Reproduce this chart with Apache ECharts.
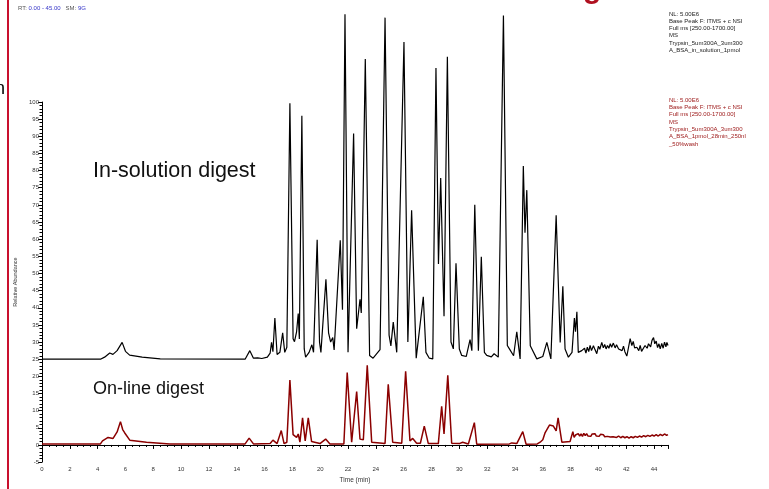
<!DOCTYPE html>
<html>
<head>
<meta charset="utf-8">
<script src="https://cdn.jsdelivr.net/npm/echarts@6/dist/echarts.min.js"></script>
<style>
html,body{margin:0;padding:0;background:#fff;}
#chart{width:769px;height:489px;}
</style>
</head>
<body>
<div id="chart"></div>
<script>
// ---- Data (time in min, relative abundance; in-solution trace drawn with +25 offset as in the reference) ----
const xTicks = [0,2,4,6,8,10,12,14,16,18,20,22,24,26,28,30,32,34,36,38,40,42,44];
const yTicks = [-5,0,5,10,15,20,25,30,35,40,45,50,55,60,65,70,75,80,85,90,95,100];

const inSolutionTrace = [
 [0,25.0],[4.2,25.0],[4.5,25.6],[4.87,26.8],[5.1,26.4],[5.4,27.5],[5.76,29.9],[6.0,27.3],[6.3,26.2],[7.2,25.6],[8.5,25.1],
 [14.6,25.0],[14.94,27.5],[15.2,25.3],[15.5,25.4],[15.8,25.2],[16.2,25.6],[16.4,26.8],[16.5,29.9],[16.6,27.2],[16.74,37.0],
 [16.9,26.4],[17.1,27.0],[17.3,32.7],[17.45,27.0],[17.6,28.5],[17.82,99.6],[18.05,31.0],[18.15,30.1],[18.3,33.0],[18.42,38.3],
 [18.5,30.9],[18.68,96.0],[18.85,28.0],[18.95,25.6],[19.2,27.0],[19.4,29.2],[19.52,27.0],[19.78,59.8],[19.95,30.0],[20.05,27.0],
 [20.41,48.3],[20.6,32.7],[20.75,30.0],[20.9,31.3],[21.0,27.7],[21.44,59.7],[21.6,39.4],[21.78,125.6],[22.0,27.0],[22.4,90.8],
 [22.62,33.9],[22.86,42.5],[22.95,38.5],[23.24,112.5],[23.55,26.1],[23.8,25.3],[24.3,27.8],[24.66,124.6],[24.95,32.0],[25.08,28.9],
 [25.25,35.8],[25.5,27.0],[26.02,117.5],[26.3,30.0],[26.57,68.4],[26.9,25.3],[27.41,43.2],[27.6,27.0],[27.84,25.3],[28.09,25.1],
 [28.32,109.9],[28.5,52.8],[28.66,77.8],[28.9,37.5],[29.14,113.2],[29.4,30.0],[29.57,28.0],[29.76,53.0],[30.0,28.0],[30.17,26.1],
 [30.5,25.8],[30.77,30.7],[30.9,27.5],[31.11,70.0],[31.37,27.5],[31.58,54.9],[31.8,27.0],[31.97,26.1],[32.3,25.7],[32.5,26.6],
 [32.8,25.6],[33.17,125.2],[33.45,29.0],[33.6,28.0],[33.9,26.0],[34.13,33.0],[34.37,25.1],[34.6,81.3],[34.72,61.9],[34.85,74.3],
 [35.1,28.9],[35.57,25.1],[36.0,25.8],[36.29,29.9],[36.58,25.1],[36.96,67.0],[37.25,29.9],[37.44,46.3],[37.6,28.0],[37.84,25.6],
 [38.1,27.0],[38.27,37.0],[38.35,33.0],[38.45,38.8],[38.55,27.0],[38.65,26.6],[38.8,27.5],[38.92,27.0],[39.0,28.2],[39.1,26.8],
 [39.2,28.5],[39.3,27.2],[39.4,29.0],[39.5,27.5],[39.64,28.9],[39.75,27.8],[39.88,26.6],[40.0,28.8],[40.1,27.9],[40.24,29.9],
 [40.35,28.3],[40.45,29.3],[40.55,28.0],[40.65,29.0],[40.75,28.2],[40.85,29.5],[40.95,28.5],[41.07,29.7],[41.2,28.3],[41.3,29.2],
 [41.45,28.0],[41.56,28.5],[41.7,27.5],[41.8,28.8],[41.9,27.2],[42.04,25.9],[42.15,28.2],[42.28,31.0],[42.4,29.0],[42.5,30.2],
 [42.6,28.3],[42.76,28.5],[42.9,27.5],[43.0,29.0],[43.1,27.3],[43.24,27.8],[43.35,29.0],[43.5,28.2],[43.6,29.5],[43.75,28.6],
 [43.85,30.5],[43.96,31.3],[44.05,29.5],[44.15,30.3],[44.25,28.4],[44.35,29.5],[44.44,28.0],[44.55,29.6],[44.65,28.2],[44.75,30.0],
 [44.85,28.6],[44.92,29.9],[45.0,29.0]
];

const onlineTrace = [
 [0,0.3],[4.2,0.3],[4.35,1.2],[4.75,2.2],[5.11,1.9],[5.4,3.8],[5.64,6.8],[5.8,4.5],[5.95,3.5],[6.31,1.4],[7.51,0.8],[9.19,0.3],
 [10.75,0.3],[10.8,0.6],[10.85,0.3],[14.6,0.3],[14.89,2.0],[15.2,0.3],[16.4,0.4],[16.6,1.4],[16.9,0.4],[17.2,4.2],[17.4,0.4],
 [17.6,0.8],[17.82,18.9],[18.05,3.0],[18.3,2.2],[18.42,3.2],[18.54,0.8],[18.73,7.9],[18.92,1.2],[19.14,7.9],[19.38,1.0],[19.98,0.4],
 [20.39,1.7],[20.7,0.3],[21.7,0.3],[21.94,21.1],[22.26,0.8],[22.62,15.6],[22.86,1.7],[23.1,1.5],[23.38,23.2],[23.7,0.8],[24.66,0.4],
 [24.89,17.7],[25.21,0.8],[25.86,0.5],[26.14,21.5],[26.45,1.2],[26.65,1.9],[26.93,0.5],[27.2,0.5],[27.48,5.5],[27.77,0.4],[28.49,0.4],
 [28.73,11.3],[28.9,3.2],[29.17,20.3],[29.45,0.5],[30.0,0.4],[30.24,0.8],[30.65,0.3],[31.08,6.5],[31.25,0.2],[33.6,0.3],[33.77,0.6],
 [34.13,0.4],[34.56,3.9],[34.8,0.2],[35.6,0.3],[35.81,0.8],[36.0,1.5],[36.17,3.6],[36.48,5.8],[36.76,5.5],[36.96,4.1],[37.1,7.9],
 [37.37,0.8],[37.96,1.0],[38.1,1.5],[38.16,3.9],[38.25,2.2],[38.35,2.9],[38.45,2.4],[38.55,3.3],[38.65,2.6],[38.75,3.2],[38.85,2.5],
 [38.95,3.4],[39.05,2.7],[39.15,3.3],[39.25,2.6],[39.35,3.1],[39.45,2.5],[39.55,3.2],[39.65,2.7],[39.75,3.3],[39.85,2.6],[39.95,3.0],
 [40.05,2.5],[40.15,3.1],[40.25,2.6],[40.35,3.0],[40.45,2.4],[40.55,2.9],[40.65,2.5],[40.75,2.9],[40.85,2.3],[40.95,2.8],[41.05,2.4],
 [41.15,2.7],[41.3,2.2],[41.45,2.6],[41.6,2.1],[41.75,2.5],[41.9,2.1],[42.05,2.4],[42.2,2.0],[42.35,2.4],[42.5,2.1],[42.65,2.5],
 [42.8,2.2],[42.95,2.6],[43.1,2.3],[43.25,2.7],[43.4,2.4],[43.55,2.8],[43.7,2.5],[43.85,2.9],[44.0,2.6],[44.15,3.0],[44.3,2.6],
 [44.45,3.1],[44.6,2.7],[44.75,3.2],[44.9,2.8],[45.0,3.0]
];

const inSolutionInfo = ['NL: 5.00E6','Base Peak F: ITMS + c NSI','Full ms [250.00-1700.00]','MS','Trypsin_5um300A_3um300','A_BSA_in_solution_1pmol'];
const onlineInfo = ['NL: 5.00E6','Base Peak F: ITMS + c NSI','Full ms [250.00-1700.00]','MS','Trypsin_5um300A_3um300','A_BSA_1pmol_28min_250nl','_50%wash'];

const FONT = '"Liberation Sans", Arial, Helvetica, sans-serif';
const chart = echarts.init(document.getElementById('chart'), null, {renderer:'canvas'});

chart.setOption({
  animation:false,
  backgroundColor:'#fff',
  grid:{left:42, right:101, top:102, bottom:20, containLabel:false},
  xAxis:{
    type:'value', min:0, max:45, interval:2,
    name:'Time (min)', nameLocation:'middle', nameGap:13,
    nameTextStyle:{fontFamily:FONT, fontSize:6.5, color:'#333'},
    axisLine:{lineStyle:{color:'#000', width:1}},
    axisTick:{length:4, lineStyle:{color:'#000'}},
    minorTick:{show:true, splitNumber:4, length:2, lineStyle:{color:'#000'}},
    splitLine:{show:false},
    axisLabel:{fontFamily:FONT, fontSize:6, color:'#333', margin:4,
      formatter:v => xTicks.includes(v) ? String(v) : ''}
  },
  yAxis:{
    type:'value', min:-5, max:100, interval:5,
    name:'Relative Abundance', nameLocation:'middle', nameGap:16,
    nameTextStyle:{fontFamily:FONT, fontSize:5.5, color:'#333'},
    axisLine:{show:true, lineStyle:{color:'#000', width:1}},
    axisTick:{show:true, length:4, lineStyle:{color:'#000'}},
    minorTick:{show:true, splitNumber:5, length:2.5, lineStyle:{color:'#000'}},
    splitLine:{show:false},
    axisLabel:{fontFamily:FONT, fontSize:6, color:'#333', margin:3,
      formatter:v => yTicks.includes(v) ? String(v) : ''}
  },
  series:[
    {type:'line', data:inSolutionTrace, showSymbol:false, clip:false, silent:true,
     lineStyle:{color:'#000', width:1.2}, z:3},
    {type:'line', data:onlineTrace, showSymbol:false, clip:false, silent:true,
     lineStyle:{color:'#8b0000', width:1.5}, z:2}
  ],
  graphic:[
    {type:'rect', shape:{x:7, y:0, width:2, height:489}, style:{fill:'#c8102e'}},
    {type:'text', x:-5, y:80, style:{text:'n', font:'18px '+FONT, fill:'#000'}},
    {type:'text', x:583, y:-25, style:{text:'g', font:'bold 30px '+FONT, fill:'#b01020'}},
    {type:'text', x:18, y:5.5, style:{
      text:'{g|RT: }{b|0.00 - 45.00}{g|   SM: }{b|9G}',
      rich:{g:{fontFamily:FONT, fontSize:6, fill:'#555', color:'#555'}, b:{fontFamily:FONT, fontSize:6, fill:'#3535c8', color:'#3535c8'}}
    }},
    {type:'text', x:669, y:10.5, style:{text:inSolutionInfo.join('\n'), font:'6px '+FONT, lineHeight:7.2, fill:'#222'}},
    {type:'text', x:669, y:96.5, style:{text:onlineInfo.join('\n'), font:'6px '+FONT, lineHeight:7.33, fill:'#a02020'}},
    {type:'text', x:93, y:160, style:{text:'In-solution digest', font:'21.5px '+FONT, fill:'#111'}},
    {type:'text', x:93, y:380, style:{text:'On-line digest', font:'18px '+FONT, fill:'#111'}}
  ]
});
</script>
</body>
</html>
